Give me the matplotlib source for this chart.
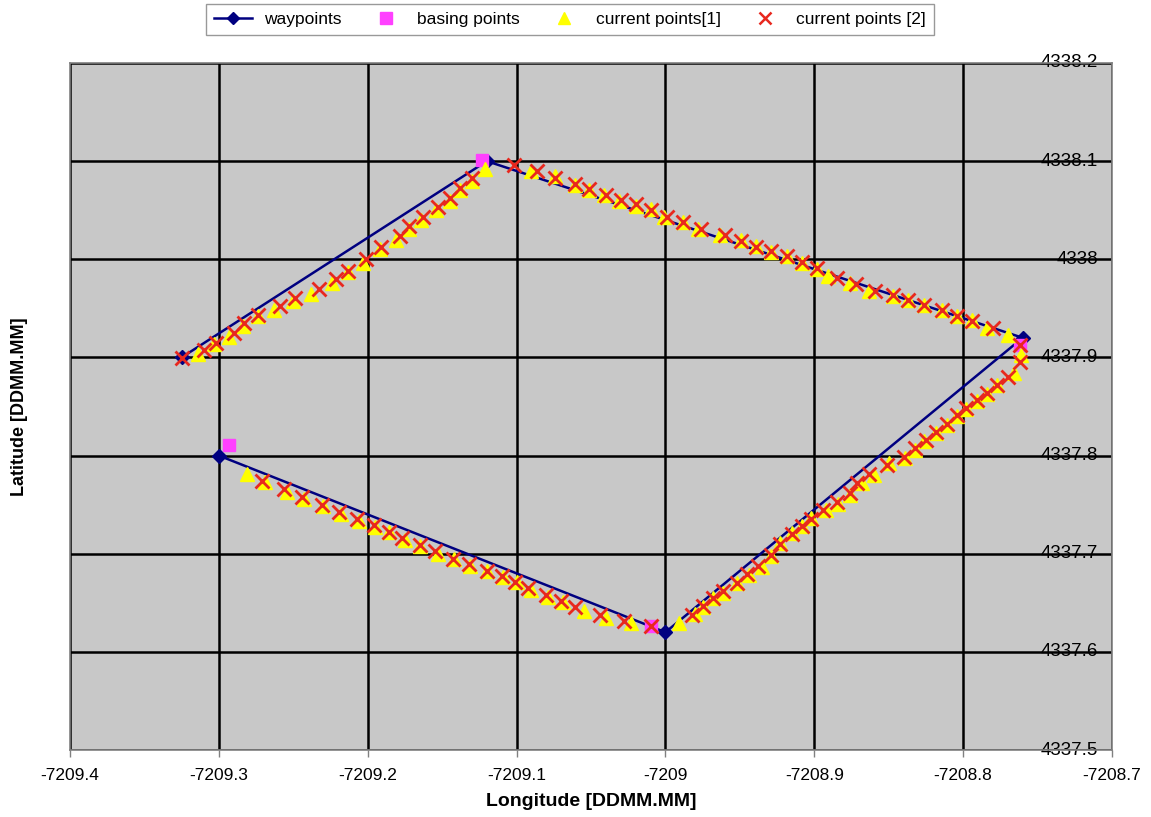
import matplotlib
matplotlib.use("Agg")
import matplotlib.pyplot as plt
from matplotlib.lines import Line2D
from matplotlib.transforms import blended_transform_factory

plt.rcParams['font.family'] = ['Liberation Sans', 'DejaVu Sans']

# ---- data ----
wp_lon = [-7209.325, -7209.12, -7208.76, -7209.0, -7209.3]
wp_lat = [4337.90, 4338.10, 4337.92, 4337.62, 4337.80]

base_lon = [-7209.123, -7208.762, -7209.010, -7209.293]
base_lat = [4338.101, 4337.913, 4337.626, 4337.811]

cur1_lon = [-7209.314, -7209.303, -7209.293, -7209.284, -7209.274, -7209.263, -7209.250, -7209.238,
            -7209.224, -7209.213, -7209.203, -7209.192, -7209.181, -7209.172, -7209.164, -7209.154,
            -7209.145, -7209.138, -7209.130, -7209.121,
            -7209.090, -7209.074, -7209.061, -7209.051, -7209.041, -7209.031, -7209.020, -7209.010,
            -7209.001, -7208.988, -7208.978, -7208.963, -7208.949, -7208.939, -7208.929, -7208.918,
            -7208.908, -7208.898, -7208.891, -7208.876, -7208.863, -7208.847, -7208.837, -7208.826,
            -7208.814, -7208.804, -7208.794, -7208.784, -7208.770,
            -7208.761, -7208.766, -7208.777, -7208.784, -7208.791, -7208.798, -7208.804, -7208.811,
            -7208.818, -7208.826, -7208.832, -7208.839, -7208.850, -7208.860, -7208.868, -7208.876,
            -7208.884, -7208.892, -7208.902, -7208.908, -7208.915, -7208.923, -7208.929, -7208.935,
            -7208.944, -7208.952, -7208.961, -7208.968, -7208.975, -7208.980, -7208.991,
            -7209.023, -7209.040, -7209.055, -7209.069, -7209.079, -7209.090, -7209.100, -7209.109,
            -7209.120, -7209.131, -7209.142, -7209.153, -7209.165, -7209.175, -7209.186, -7209.195,
            -7209.206, -7209.218, -7209.230, -7209.243, -7209.254, -7209.269, -7209.281]
cur1_lat = [4337.904, 4337.914, 4337.921, 4337.932, 4337.942, 4337.948, 4337.958, 4337.965,
            4337.976, 4337.987, 4337.996, 4338.010, 4338.020, 4338.031, 4338.040, 4338.050,
            4338.059, 4338.071, 4338.080, 4338.092,
            4338.090, 4338.085, 4338.076, 4338.071, 4338.065, 4338.059, 4338.054, 4338.051,
            4338.043, 4338.038, 4338.031, 4338.025, 4338.020, 4338.014, 4338.007, 4338.003,
            4337.996, 4337.990, 4337.983, 4337.976, 4337.968, 4337.963, 4337.959, 4337.953,
            4337.948, 4337.942, 4337.938, 4337.930, 4337.923,
            4337.902, 4337.884, 4337.872, 4337.863, 4337.856, 4337.847, 4337.840, 4337.831,
            4337.823, 4337.815, 4337.806, 4337.798, 4337.792, 4337.780, 4337.772, 4337.760,
            4337.751, 4337.745, 4337.736, 4337.728, 4337.721, 4337.711, 4337.698, 4337.686,
            4337.678, 4337.670, 4337.660, 4337.655, 4337.646, 4337.639, 4337.629,
            4337.629, 4337.635, 4337.642, 4337.651, 4337.656, 4337.663, 4337.671, 4337.676,
            4337.682, 4337.687, 4337.695, 4337.700, 4337.708, 4337.714, 4337.722, 4337.727,
            4337.733, 4337.740, 4337.749, 4337.756, 4337.763, 4337.773, 4337.781]

cur2_lon = [-7209.325, -7209.310, -7209.302, -7209.290, -7209.283, -7209.274, -7209.259, -7209.249,
            -7209.233, -7209.221, -7209.213, -7209.201, -7209.191, -7209.178, -7209.172, -7209.163,
            -7209.153, -7209.145, -7209.138, -7209.130,
            -7209.102, -7209.086, -7209.074, -7209.061, -7209.051, -7209.040, -7209.030, -7209.020,
            -7209.010, -7208.999, -7208.988, -7208.976, -7208.960, -7208.949, -7208.939, -7208.929,
            -7208.918, -7208.908, -7208.898, -7208.885, -7208.872, -7208.859, -7208.847, -7208.837,
            -7208.826, -7208.814, -7208.804, -7208.794, -7208.780, -7208.762,
            -7208.762, -7208.770, -7208.777, -7208.784, -7208.791, -7208.798, -7208.804, -7208.811,
            -7208.818, -7208.825, -7208.832, -7208.840, -7208.851, -7208.863, -7208.871, -7208.876,
            -7208.885, -7208.894, -7208.902, -7208.908, -7208.915, -7208.923, -7208.929, -7208.938,
            -7208.945, -7208.952, -7208.961, -7208.968, -7208.975, -7208.982,
            -7209.010, -7209.028, -7209.044, -7209.061, -7209.070, -7209.080, -7209.092, -7209.101,
            -7209.110, -7209.120, -7209.132, -7209.143, -7209.155, -7209.165, -7209.177, -7209.186,
            -7209.196, -7209.207, -7209.219, -7209.231, -7209.244, -7209.256, -7209.271]
cur2_lat = [4337.899, 4337.908, 4337.915, 4337.925, 4337.935, 4337.943, 4337.952, 4337.961,
            4337.970, 4337.980, 4337.988, 4338.000, 4338.013, 4338.024, 4338.034, 4338.043,
            4338.053, 4338.062, 4338.073, 4338.083,
            4338.096, 4338.090, 4338.083, 4338.077, 4338.072, 4338.066, 4338.060, 4338.056,
            4338.050, 4338.043, 4338.038, 4338.031, 4338.025, 4338.019, 4338.013, 4338.008,
            4338.003, 4337.997, 4337.991, 4337.981, 4337.975, 4337.968, 4337.964, 4337.959,
            4337.953, 4337.948, 4337.942, 4337.937, 4337.930, 4337.913,
            4337.895, 4337.880, 4337.872, 4337.864, 4337.857, 4337.848, 4337.841, 4337.832,
            4337.824, 4337.816, 4337.808, 4337.799, 4337.790, 4337.781, 4337.772, 4337.762,
            4337.753, 4337.745, 4337.735, 4337.728, 4337.720, 4337.710, 4337.699, 4337.687,
            4337.679, 4337.670, 4337.662, 4337.655, 4337.647, 4337.638,
            4337.626, 4337.631, 4337.638, 4337.646, 4337.652, 4337.658, 4337.665, 4337.671,
            4337.677, 4337.682, 4337.690, 4337.695, 4337.703, 4337.709, 4337.716, 4337.722,
            4337.729, 4337.735, 4337.742, 4337.750, 4337.758, 4337.766, 4337.774]

x_ticks = [-7209.4, -7209.3, -7209.2, -7209.1, -7209.0, -7208.9, -7208.8, -7208.7]
x_tick_labels = ["-7209.4", "-7209.3", "-7209.2", "-7209.1", "-7209", "-7208.9", "-7208.8", "-7208.7"]
y_ticks = [4337.5, 4337.6, 4337.7, 4337.8, 4337.9, 4338.0, 4338.1, 4338.2]
y_tick_labels = ["4337.5", "4337.6", "4337.7", "4337.8", "4337.9", "4338", "4338.1", "4338.2"]

# ---- figure ----
fig = plt.figure(figsize=(11.51, 8.17), dpi=100)
fig.patch.set_facecolor('white')
ax = fig.add_axes([0.0608, 0.0820, 0.9053, 0.8409])
ax.set_facecolor('#c8c8c8')
ax.set_xlim(-7209.4, -7208.7)
ax.set_ylim(4337.5, 4338.2)

ax.set_xticks(x_ticks)
ax.set_xticklabels(x_tick_labels, fontsize=12.5)
ax.set_yticks(y_ticks)
ax.set_yticklabels([])
ax.tick_params(axis='y', length=0)
ax.tick_params(axis='x', length=5, width=1, color='#808080', pad=8)
ax.grid(True, color='black', linewidth=1.8, zorder=0)
ax.set_axisbelow(True)
for s in ax.spines.values():
    s.set_color('#808080')
    s.set_linewidth(1.2)

trans = blended_transform_factory(ax.transAxes, ax.transData)
for yv, lab in zip(y_ticks, y_tick_labels):
    ax.text(0.9866, yv, lab, transform=trans, ha='right', va='center', fontsize=13.5, zorder=1)

ax.plot(wp_lon, wp_lat, color='#000080', linewidth=1.8, marker='D', markersize=7,
        markerfacecolor='#000080', markeredgecolor='#000080', zorder=3, label='waypoints')
ax.plot(base_lon, base_lat, linestyle='none', marker='s', markersize=9,
        color='#ff40ff', zorder=4, label='basing points')
ax.plot(cur1_lon, cur1_lat, linestyle='none', marker='^', markersize=10,
        color='#ffff00', markeredgecolor='#ffff00', zorder=5, label='current points[1]')
ax.plot(cur2_lon, cur2_lat, linestyle='none', marker='x', markersize=9.5, markeredgewidth=2,
        color='#e8281e', zorder=6, label='current points [2]')

ax.set_xlabel('Longitude [DDMM.MM]', fontsize=14, fontweight='bold', labelpad=7)
ax.set_ylabel('Latitude [DDMM.MM]', fontsize=13, fontweight='bold', labelpad=27)

handles = [
    Line2D([], [], color='#000080', linewidth=1.8, marker='D', markersize=6),
    Line2D([], [], linestyle='none', marker='s', markersize=8, color='#ff40ff'),
    Line2D([], [], linestyle='none', marker='^', markersize=9, color='#ffff00'),
    Line2D([], [], linestyle='none', marker='x', markersize=8, markeredgewidth=1.8, color='#e8281e'),
]
labels = ['waypoints', 'basing points', 'current points[1]', 'current points [2]']
leg = fig.legend(handles, labels, loc='upper center', bbox_to_anchor=(0.4952, 0.995), ncol=4,
                 fontsize=12.5, frameon=True, fancybox=False, edgecolor='#808080',
                 handlelength=2.2, columnspacing=1.45, handletextpad=0.7, borderpad=0.45,
                 borderaxespad=0)
leg.get_frame().set_linewidth(1.0)

fig.savefig('out.png', dpi=100)
